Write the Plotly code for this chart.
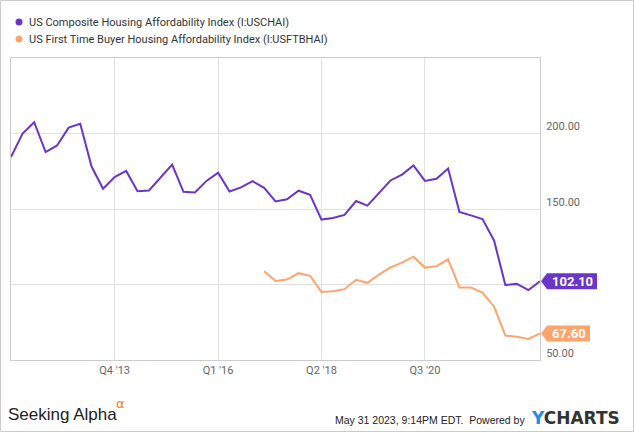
import pandas as pd
import plotly.graph_objects as go

# Quarterly index values, Q3 2011 .. Q1 2023
quarters = pd.date_range(start="2011-07-01", periods=47, freq="QS")

composite = [
    184.4, 200.0, 207.5, 187.7, 192.1, 203.9, 206.4, 178.1, 163.4, 171.1,
    175.2, 161.8, 162.3, 170.8, 179.4, 161.4, 161.0, 168.6, 174.1, 161.6,
    164.3, 168.4, 164.0, 155.0, 156.4, 162.1, 159.4, 143.0, 144.1, 146.1,
    155.3, 152.2, 160.3, 168.9, 172.8, 178.9, 168.6, 170.0, 176.8, 148.0,
    145.8, 143.4, 129.2, 99.6, 100.4, 96.3, 102.1,
]

# First time buyer index starts in Q1 2017
first_time = [
    108.8, 102.4, 103.3, 107.5, 105.7, 95.0, 95.6, 96.9, 103.1, 101.1,
    106.6, 111.4, 114.5, 118.4, 111.2, 112.1, 116.7, 98.0, 98.0, 94.7,
    85.3, 66.2, 65.4, 64.0, 67.6,
]
first_time_dates = quarters[len(quarters) - len(first_time):]

series_names = [
    "US Composite Housing Affordability Index (I:USCHAI)",
    "US First Time Buyer Housing Affordability Index (I:USFTBHAI)",
]
tick_dates = ["2013-10-01", "2016-01-01", "2018-04-01", "2020-07-01"]
tick_labels = ["Q4 '13", "Q1 '16", "Q2 '18", "Q3 '20"]
y_ticks = [50, 100, 150, 200]
# 100.00 sits under the value tag in the original, so it is left blank
y_tick_labels = ["50.00", "", "150.00", "200.00"]

PURPLE = "#6a35c9"
ORANGE = "#ffa46c"
NARROW = "Liberation Sans Narrow, Arial Narrow, Liberation Sans, Arial, sans-serif"

# figure geometry (pixels)
W, H = 635, 433
L, R, T, B = 11, 95, 58, 73
PW, PH = W - L - R, H - T - B


def px_x(px):
    return (px - L) / PW


def px_y(py):
    return (H - B - py) / PH


fig = go.Figure()

fig.add_trace(go.Scatter(
    x=quarters, y=composite, mode="lines", name=series_names[0],
    line=dict(color=PURPLE, width=2), showlegend=False,
))
fig.add_trace(go.Scatter(
    x=first_time_dates, y=first_time, mode="lines", name=series_names[1],
    line=dict(color=ORANGE, width=2), showlegend=False,
))

shapes = []
annotations = []

# legend drawn by hand to match the compact ycharts layout
for i, (name, col) in enumerate(zip(series_names, [PURPLE, ORANGE])):
    cy = 22 + i * 17
    shapes.append(dict(
        type="circle", xref="paper", yref="paper",
        xsizemode="pixel", ysizemode="pixel",
        xanchor=px_x(19), yanchor=px_y(cy),
        x0=-3.5, x1=3.5, y0=-3.5, y1=3.5,
        fillcolor=col, line=dict(width=0),
    ))
    annotations.append(dict(
        text=name, xref="paper", yref="paper", x=px_x(27), y=px_y(cy),
        xanchor="left", yanchor="middle", showarrow=False,
        font=dict(family="Roboto", size=11, color="#333333"),
    ))

# end-of-series value tags
px_per_unit = PH / 200.0
for vals, col in [(composite, PURPLE), (first_time, ORANGE)]:
    last = vals[-1]
    label = f"{last:.2f}"
    half = 8 / px_per_unit
    box_w = 56 if len(label) > 5 else 49
    x_tip, x_box, x_end = px_x(541), px_x(547), px_x(541 + box_w)
    shapes.append(dict(
        type="path", xref="paper", yref="y", layer="above",
        path=(f"M {x_tip} {last} L {x_box} {last + half} L {x_end} {last + half} "
              f"L {x_end} {last - half} L {x_box} {last - half} Z"),
        fillcolor=col, line=dict(width=0),
    ))
    annotations.append(dict(
        text=f"<b>{label}</b>", xref="paper", yref="y",
        x=(x_box + x_end) / 2, y=last, xanchor="center", yanchor="middle",
        showarrow=False, font=dict(family="Roboto", size=13, color="white"),
    ))

# outer frame
shapes.append(dict(
    type="rect", xref="paper", yref="paper",
    x0=px_x(0.5), x1=px_x(W - 1.5), y0=px_y(H - 1.5), y1=px_y(0.5),
    line=dict(color="#cccccc", width=1),
))

# footer
annotations += [
    dict(text="Seeking Alpha", xref="paper", yref="paper", x=px_x(6), y=px_y(414),
         xanchor="left", yanchor="middle", showarrow=False,
         font=dict(family=NARROW, size=17, color="#222222")),
    dict(text="α", xref="paper", yref="paper", x=px_x(115), y=px_y(403),
         xanchor="left", yanchor="middle", showarrow=False, borderpad=0,
         font=dict(family="DejaVu Sans", size=13, color="#ff7a00")),
    dict(text="May 31 2023, 9:14PM EDT.  Powered by", xref="paper", yref="paper",
         x=px_x(527), y=px_y(420), xanchor="right", yanchor="middle", showarrow=False,
         font=dict(family=NARROW, size=10.5, color="#222222")),
    dict(text="<span style='color:#1e8bf0'>Y</span>CHARTS", xref="paper", yref="paper",
         x=px_x(529), y=px_y(418), xanchor="left", yanchor="middle", showarrow=False,
         font=dict(family="DejaVu Sans", size=17, color="#333333", weight="bold")),
]

fig.update_layout(
    width=W, height=H,
    margin=dict(l=L, r=R, t=T, b=B),
    paper_bgcolor="white", plot_bgcolor="white",
    showlegend=False,
    font=dict(family="Roboto", color="#666666"),
    shapes=shapes, annotations=annotations,
    xaxis=dict(
        range=[quarters[0], quarters[-1]],
        tickvals=tick_dates, ticktext=tick_labels,
        showgrid=True, gridcolor="#e2e2e2", gridwidth=1,
        showline=True, linecolor="#cccccc", linewidth=1, mirror=True,
        ticks="", tickfont=dict(size=11, color="#666666"),
        zeroline=False,
    ),
    yaxis=dict(
        range=[50, 250], side="right",
        tickvals=y_ticks, ticktext=y_tick_labels,
        showgrid=True, gridcolor="#e2e2e2", gridwidth=1,
        showline=True, linecolor="#cccccc", linewidth=1, mirror=True,
        ticks="", tickfont=dict(size=11, color="#666666"),
        ticklabelshift=-7, ticklabelstandoff=3,
        zeroline=False,
    ),
)

# the page's default body margin would push the 635x433 figure off the window
fig.write_html("out.html", config={"displayModeBar": False},
               post_script="document.body.style.margin='0';")
